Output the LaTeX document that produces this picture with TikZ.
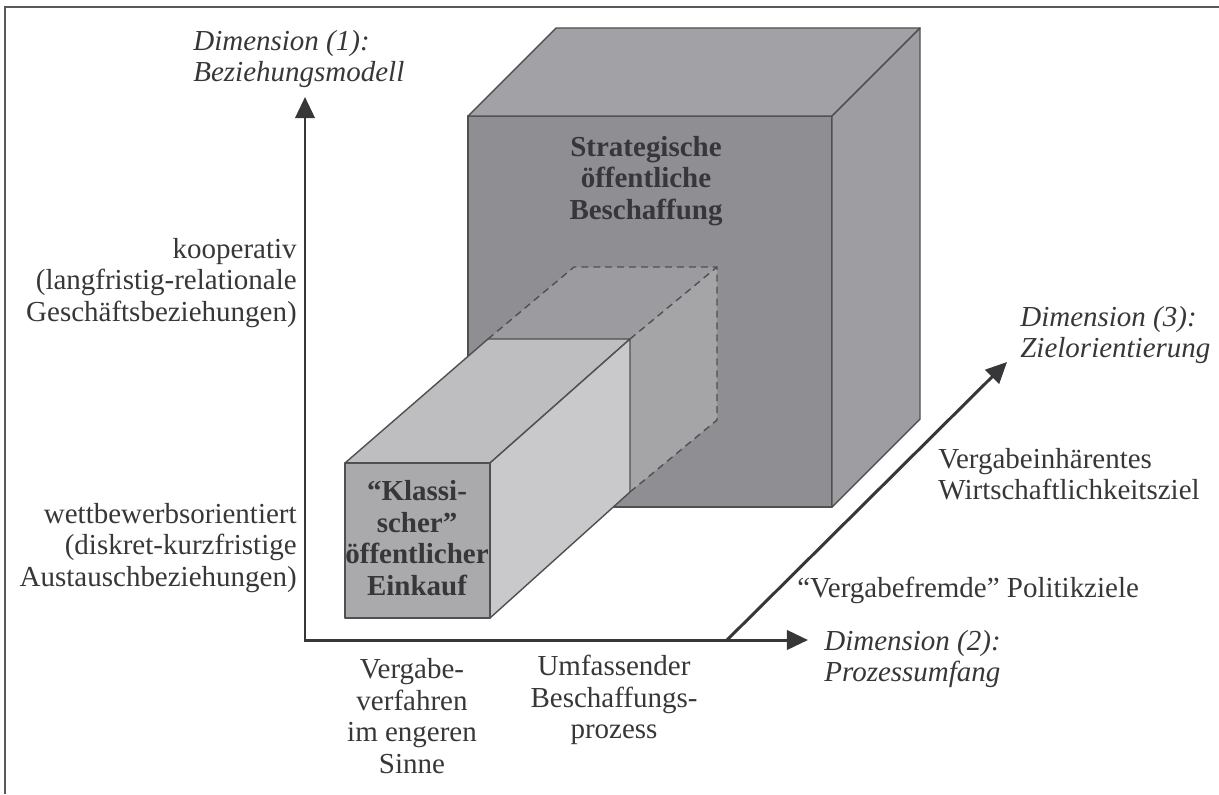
\documentclass[tikz,border=0pt]{standalone}
\usepackage{fontspec}
\setmainfont{Liberation Serif}
\usepackage{xcolor}
\usepackage{tikz}
\usetikzlibrary{arrows.meta,positioning}

\definecolor{edgegray}{RGB}{80,80,82}
\definecolor{inkgray}{RGB}{55,55,58}
\definecolor{bigfront}{RGB}{143,143,147}
\definecolor{bigtop}{RGB}{162,162,166}
\definecolor{bigright}{RGB}{158,158,162}
\definecolor{tunneltop}{RGB}{156,156,160}
\definecolor{tunnelside}{RGB}{165,165,168}
\definecolor{smallfront}{RGB}{170,170,173}
\definecolor{smalltop}{RGB}{190,190,193}
\definecolor{smallright}{RGB}{201,201,203}

\begin{document}
\begin{tikzpicture}[x=0.02cm, y=-0.02cm,
  face/.style={draw=edgegray, line width=0.8pt, line join=round},
  hidden/.style={draw=edgegray, line width=0.8pt, dash pattern=on 4pt off 2.8pt},
  axis/.style={draw=inkgray, line width=1.7pt, >={Triangle[length=12pt,width=11pt]}},
  lbl/.style={text=inkgray, inner sep=0pt, font=\fontsize{16.5}{18}\selectfont},
  dimlbl/.style={lbl, font=\fontsize{16.5}{18}\selectfont\itshape, align=left, anchor=west},
  boxlbl/.style={lbl, font=\fontsize{16.5}{18}\selectfont\bfseries, align=center}]
  \useasboundingbox (0,0) rectangle (1219,794);

  % frame of the figure
  \draw[gray!70!black, line width=0.7pt] (5,794) -- (5,7) -- (1219,7);

  % large block: strategische Beschaffung
  \filldraw[face, fill=bigfront] (468,116) rectangle (832,507);
  \filldraw[face, fill=bigtop] (468,116) -- (556,28) -- (920,28) -- (832,116) -- cycle;
  \filldraw[face, fill=bigright] (832,116) -- (920,28) -- (920,419) -- (832,507) -- cycle;

  % hidden part of the small block inside the large one
  \fill[tunneltop] (488,339) -- (574,267) -- (717,267) -- (630,339) -- cycle;
  \fill[tunnelside] (630,339) -- (717,267) -- (717,420) -- (630,492) -- cycle;

  % small block: klassischer Einkauf
  \filldraw[face, fill=smalltop] (345,463) -- (488,339) -- (630,339) -- (490,463) -- cycle;
  \filldraw[face, fill=smallright] (490,463) -- (630,339) -- (630,492) -- (490,618) -- cycle;
  \filldraw[face, fill=smallfront] (345,463) rectangle (490,618);

  \draw[hidden] (488,339) -- (574,267) -- (717,267) -- (717,420) -- (630,492);
  \draw[hidden] (630,339) -- (717,267);

  % axes
  \coordinate (origin) at (305,640);
  \coordinate (ytip) at (305,97);
  \coordinate (xtip) at (808,640);
  \coordinate (zfoot) at (727,640);
  \coordinate (ztip) at (1007,362);
  \draw[axis, <->] (ytip) -- (origin) -- (xtip);
  \draw[axis, ->] (zfoot) -- (ztip);

  % block texts
  \node[boxlbl] (strat) at (646,181) {Strategische\\öffentliche\\Beschaffung};
  \node[boxlbl] (klass) at (417,538) {“Klassi-\\scher”\\öffentlicher\\Einkauf};

  % dimension (1)
  \node[dimlbl] (dim1) at (193,59) {Dimension (1):\\Beziehungsmodell};
  \node[lbl, align=right, anchor=east] (koop) at (297,283) {kooperativ\\(langfristig-relationale\\Geschäftsbeziehungen)};
  \node[lbl, align=right, anchor=east] (wett) at (297,548) {wettbewerbsorientiert\\(diskret-kurzfristige\\Austauschbeziehungen)};

  % dimension (2)
  \node[dimlbl] (dim2) at (824,659) {Dimension (2):\\Prozessumfang};
  \node[lbl, align=center] (narrow) at (412,716) {Vergabe-\\verfahren\\im engeren\\Sinne};
  \node[lbl, align=center] (wide) at (614,700) {Umfassender\\Beschaffungs-\\prozess};

  % dimension (3)
  \node[dimlbl] (dim3) at (1020,335) {Dimension (3):\\Zielorientierung};
  \node[lbl, align=left, anchor=west] (inh) at (938,474) {Vergabeinhärentes\\Wirtschaftlichkeitsziel};
  \node[lbl, anchor=west] (fremd) at (797,590) {“Vergabefremde” Politikziele};
\end{tikzpicture}
\end{document}
